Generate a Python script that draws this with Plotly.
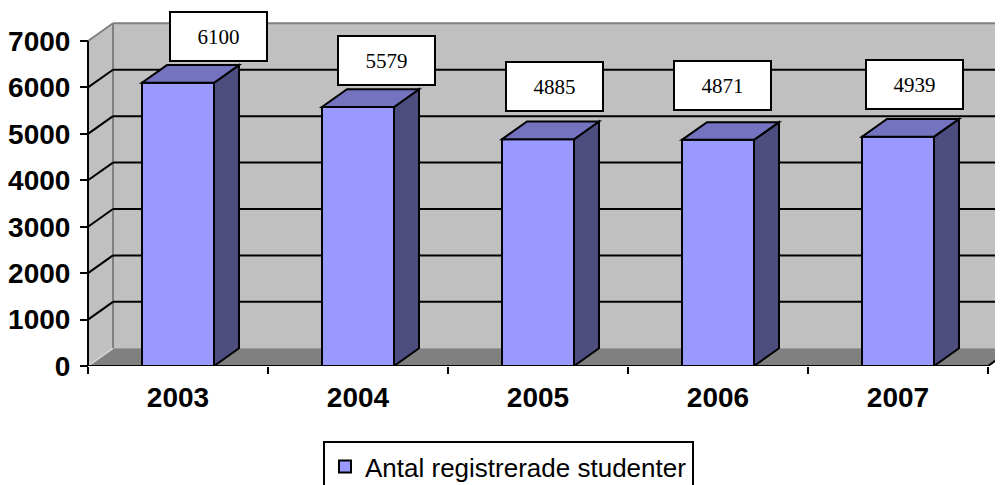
import plotly.graph_objects as go

# ---------------- data ----------------
years = ["2003", "2004", "2005", "2006", "2007"]
students = [6100, 5579, 4885, 4871, 4939]
y_tick_values = [0, 1000, 2000, 3000, 4000, 5000, 6000, 7000]
series_name = "Antal registrerade studenter"

# ---------------- style / geometry ----------------
PAGE_W, PAGE_H = 1003, 485
OFF = 8                       # default body margin of the html page
W, H = PAGE_W - OFF, PAGE_H - OFF
PX_PER_CAT = 180.0
AXIS_PX = 88 - OFF            # front y-axis position (figure px)
PLOT_LEFT_PX = AXIS_PX - 8
X0 = -0.5 - (AXIS_PX - PLOT_LEFT_PX) / PX_PER_CAT
X1 = -0.5 + (W - AXIS_PX) / PX_PER_CAT
ZERO_PX = 366 - OFF
PX_PER_VAL = 325 / 7000.0
Y1 = ZERO_PX / PX_PER_VAL
DX = 25 / PX_PER_CAT          # depth offset (category units)
DY = 17.7 / PX_PER_VAL        # depth offset (value units)
HALF = 0.2
YMAX = y_tick_values[-1]

WALL = "#c0c0c0"
FLOOR = "#808080"
EDGE = "#808080"
FRONT = "#9999ff"
TOP = "#7373bf"
SIDE = "#4d4d80"

label_xshift = [40.5, 28, 16, 4.5, 16.5]
label_yshift = [46, 46, 53, 54, 52]

xs = list(range(len(years)))
left = -0.5
right = len(years) - 0.5

shapes = []


def path(pts):
    return "M " + " L ".join(f"{x},{y}" for x, y in pts) + " Z"


# walls and floor
shapes.append(dict(type="path", xref="x", yref="y", layer="below",
                   path=path([(left, 0), (left + DX, DY), (left + DX, YMAX + DY), (left, YMAX)]),
                   fillcolor=WALL, line=dict(width=0)))
shapes.append(dict(type="rect", xref="x", yref="y", layer="below",
                   x0=left + DX, y0=DY, x1=X1 + 1, y1=YMAX + DY,
                   fillcolor=WALL, line=dict(width=0)))
shapes.append(dict(type="path", xref="x", yref="y", layer="below",
                   path=path([(left, 0), (right, 0), (right + DX, DY), (left + DX, DY)]),
                   fillcolor=FLOOR, line=dict(width=0)))
# wall edges
for (xa, ya, xb, yb) in [(left, YMAX, left + DX, YMAX + DY),
                         (left + DX, YMAX + DY, X1 + 1, YMAX + DY),
                         (left + DX, DY, left + DX, YMAX + DY)]:
    shapes.append(dict(type="line", xref="x", yref="y", layer="below",
                       x0=xa, y0=ya, x1=xb, y1=yb, line=dict(color=EDGE, width=2)))
shapes.append(dict(type="line", xref="x", yref="y", layer="below",
                   x0=left, y0=0, x1=left + DX, y1=DY, line=dict(color="#d8d8d8", width=1.5)))
# gridlines
for v in y_tick_values[1:-1]:
    shapes.append(dict(type="line", xref="x", yref="y", layer="below",
                       x0=left, y0=v, x1=left + DX, y1=v + DY, line=dict(color="black", width=2)))
    shapes.append(dict(type="line", xref="x", yref="y", layer="below",
                       x0=left + DX, y0=v + DY, x1=X1 + 1, y1=v + DY, line=dict(color="black", width=2)))

# 3D faces of bars
for x, v in zip(xs, students):
    shapes.append(dict(type="path", xref="x", yref="y", layer="above",
                       path=path([(x + HALF, 0), (x + HALF + DX, DY), (x + HALF + DX, v + DY), (x + HALF, v)]),
                       fillcolor=SIDE, line=dict(color="black", width=2)))
    shapes.append(dict(type="path", xref="x", yref="y", layer="above",
                       path=path([(x - HALF, v), (x + HALF, v), (x + HALF + DX, v + DY), (x - HALF + DX, v + DY)]),
                       fillcolor=TOP, line=dict(color="black", width=2)))

# axis lines
shapes.append(dict(type="line", xref="x", yref="y", layer="above",
                   x0=left, y0=0, x1=left, y1=YMAX, line=dict(color="black", width=2)))
shapes.append(dict(type="line", xref="x", yref="y", layer="above",
                   x0=left, y0=0, x1=right, y1=0, line=dict(color="black", width=2)))
shapes.append(dict(type="line", xref="x", yref="y", layer="above",
                   x0=right, y0=0, x1=right + DX, y1=DY, line=dict(color="black", width=2)))

fig = go.Figure()
fig.add_trace(go.Bar(
    x=xs, y=students, width=2 * HALF, name=series_name,
    marker=dict(color=FRONT, line=dict(color="black", width=2)),
    showlegend=True, hoverinfo="skip",
))

annotations = []
for x, v, sx, sy in zip(xs, students, label_xshift, label_yshift):
    annotations.append(dict(
        x=x, y=v, xref="x", yref="y", text=str(v), showarrow=False,
        xanchor="center", yanchor="middle", xshift=sx, yshift=sy,
        width=95, height=47, borderpad=0, borderwidth=2,
        bordercolor="black", bgcolor="white",
        font=dict(family="Liberation Serif, Times New Roman, serif", size=21, color="black"),
    ))

fig.update_layout(
    width=W, height=H,
    margin=dict(l=0, r=0, t=0, b=0, autoexpand=False),
    paper_bgcolor="white", plot_bgcolor="white",
    shapes=shapes, annotations=annotations,
    hovermode=False,
    xaxis=dict(
        domain=[PLOT_LEFT_PX / W, 1], range=[X0, X1], automargin=False,
        tickmode="array", tickvals=xs, ticktext=years, ticks="",
        showline=False, showgrid=False, zeroline=False,
        tickfont=dict(family="Liberation Sans, Arial, sans-serif", size=28, color="black", weight="bold"),
        ticklabelstandoff=12,
        minor=dict(tickmode="array", tickvals=[i - 0.5 for i in range(len(years) + 1)],
                   ticks="outside", ticklen=7, tickwidth=2, tickcolor="black", showgrid=False),
    ),
    yaxis=dict(
        domain=[(H - ZERO_PX) / H, 1], range=[0, Y1], automargin=False,
        anchor="free", position=AXIS_PX / W,
        tickmode="array", tickvals=y_tick_values,
        ticks="outside", ticklen=8, tickwidth=2, tickcolor="black",
        showline=False, showgrid=False, zeroline=False,
        tickfont=dict(family="Liberation Sans, Arial, sans-serif", size=28, color="black", weight="bold"),
        ticklabelstandoff=4,
    ),
    legend=dict(
        x=(323 - OFF) / W, y=(PAGE_H - 441) / H, xanchor="left", yanchor="top",
        orientation="h", bgcolor="white", bordercolor="black", borderwidth=2,
        font=dict(family="Liberation Sans, Arial, sans-serif", size=26, color="black"),
    ),
)

fig.write_html("out.html")
